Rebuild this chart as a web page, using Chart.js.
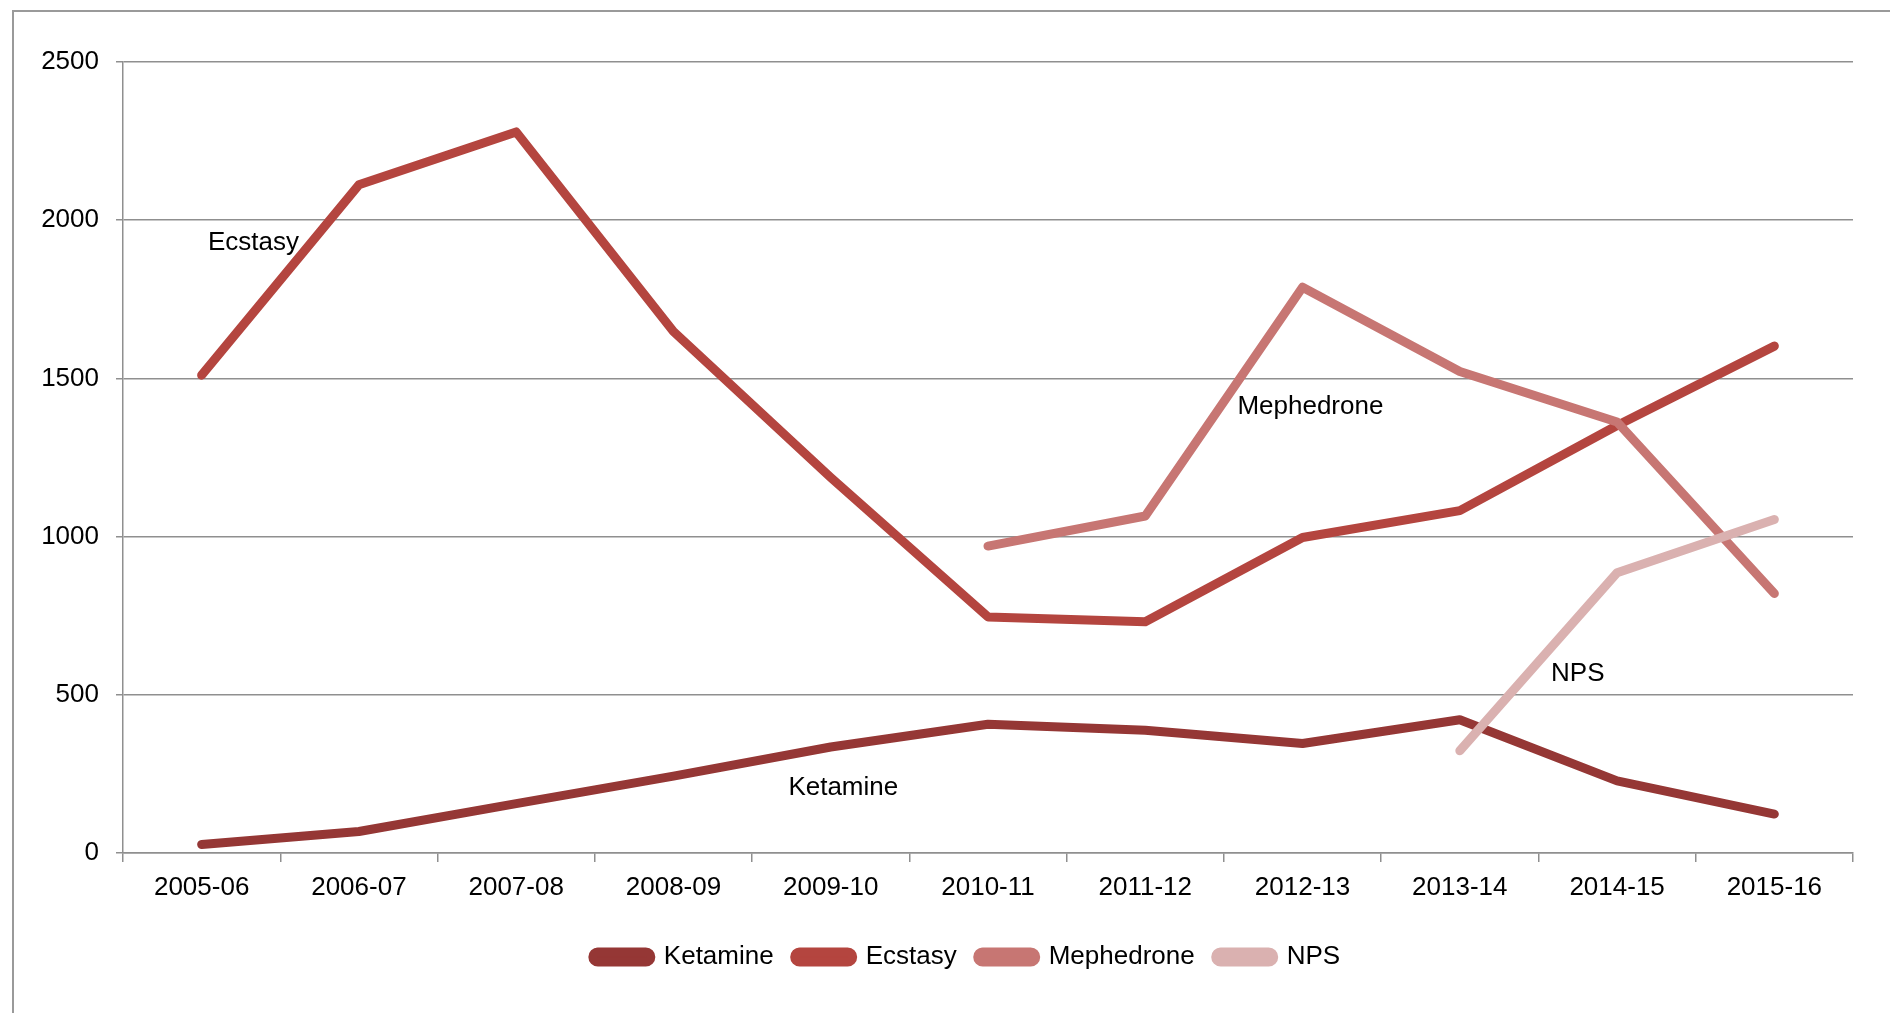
<!DOCTYPE html>
<html>
<head>
<meta charset="utf-8">
<title>Drug use trends</title>
<script src="https://cdn.jsdelivr.net/npm/chart.js@4.4.1/dist/chart.umd.min.js"></script>
<style>
    html, body { margin: 0; padding: 0; background: #fff; }
    #wrap { position: relative; width: 1890px; height: 1013px; }
</style>
</head>
<body>
<div id="wrap"><canvas id="drugChart"></canvas></div>
<script>
// Data
const years = ['2005-06', '2006-07', '2007-08', '2008-09', '2009-10', '2010-11',
               '2011-12', '2012-13', '2013-14', '2014-15', '2015-16'];
const ketamine   = [27, 68, 156, 243, 335, 407, 388, 346, 421, 228, 123];
const ecstasy    = [1510, 2112, 2279, 1648, 1187, 746, 731, 997, 1082, 1351, 1602];
const mephedrone = [null, null, null, null, null, 970, 1065, 1788, 1522, 1362, 820];
const nps        = [null, null, null, null, null, null, null, null, 323, 886, 1054];

// In-chart series labels (category index, value)
const noteText  = ['Ecstasy', 'Mephedrone', 'Ketamine', 'NPS'];
const noteIndex = [0.33, 7.05, 4.08, 8.75];
const noteValue = [1927, 1411, 206, 566];

const FONT = "'Liberation Sans', Arial, sans-serif";
const FONT_SIZE = 26;
const GRID = '#8f8f8f';

/**
 * Outer frame, series annotations and legend placement
 */
const framePlugin = {
    id: 'frame',
    afterLayout(chart) {
        // legend sits a little right of the canvas centre in the original
        const shift = 40;
        chart.legend.left += shift;
        chart.legend.right += shift;
    },
    beforeDraw(chart) {
        const ctx = chart.ctx;
        ctx.save();
        ctx.strokeStyle = '#9a9a9a';
        ctx.lineWidth = 2;
        ctx.beginPath();
        ctx.moveTo(13, chart.height + 5);
        ctx.lineTo(13, 11);
        ctx.lineTo(chart.width + 5, 11);
        ctx.stroke();
        ctx.restore();
    },
    afterDatasetsDraw(chart) {
        const ctx = chart.ctx;
        const { x, y } = chart.scales;
        ctx.save();
        ctx.font = FONT_SIZE + 'px ' + FONT;
        ctx.fillStyle = '#000';
        ctx.textAlign = 'center';
        ctx.textBaseline = 'middle';
        noteText.forEach((txt, i) => {
            ctx.fillText(txt, x.getPixelForValue(noteIndex[i]), y.getPixelForValue(noteValue[i]));
        });
        ctx.restore();
    }
};

function series(label, data, color, order) {
    return {
        label: label,
        data: data,
        borderColor: color,
        backgroundColor: color,
        borderWidth: 9,
        borderCapStyle: 'round',
        borderJoinStyle: 'round',
        pointRadius: 0,
        pointHoverRadius: 0,
        tension: 0,
        spanGaps: false,
        order: order
    };
}

const ctx = document.getElementById('drugChart').getContext('2d');
new Chart(ctx, {
    type: 'line',
    data: {
        labels: years,
        datasets: [
            series('Ketamine', ketamine, '#953735', 4),
            series('Ecstasy', ecstasy, '#b4453f', 3),
            series('Mephedrone', mephedrone, '#c77673', 2),
            series('NPS', nps, '#dab1b0', 1)
        ]
    },
    options: {
        responsive: true,
        maintainAspectRatio: false,
        animation: false,
        layout: {
            padding: { left: 0, right: 37, top: 62, bottom: 33 }
        },
        plugins: {
            tooltip: { enabled: false },
            title: { display: false },
            legend: {
                position: 'bottom',
                align: 'center',
                labels: {
                    sort: (a, b) => a.datasetIndex - b.datasetIndex,
                    boxWidth: 58,
                    boxHeight: 10,
                    useBorderRadius: true,
                    borderRadius: 5,
                    padding: 21,
                    color: '#000',
                    font: { family: FONT, size: FONT_SIZE }
                }
            }
        },
        scales: {
            x: {
                offset: true,
                afterFit: (scale) => { scale.height = 70; },
                grid: {
                    offset: true,
                    drawOnChartArea: false,
                    drawTicks: true,
                    tickLength: 9,
                    color: GRID,
                    lineWidth: 1.5
                },
                border: { color: GRID, width: 1.5 },
                ticks: {
                    color: '#000',
                    padding: 10,
                    maxRotation: 0,
                    autoSkip: false,
                    font: { family: FONT, size: FONT_SIZE }
                }
            },
            y: {
                min: 0,
                max: 2500,
                afterFit: (scale) => { scale.width = 123; },
                grid: {
                    color: GRID,
                    lineWidth: 1.5,
                    drawTicks: true,
                    tickLength: 7
                },
                border: { color: GRID, width: 1.5 },
                ticks: {
                    stepSize: 500,
                    color: '#000',
                    padding: 17,
                    callback: (value) => String(value),
                    font: { family: FONT, size: FONT_SIZE }
                }
            }
        }
    },
    plugins: [framePlugin]
});
</script>
</body>
</html>
